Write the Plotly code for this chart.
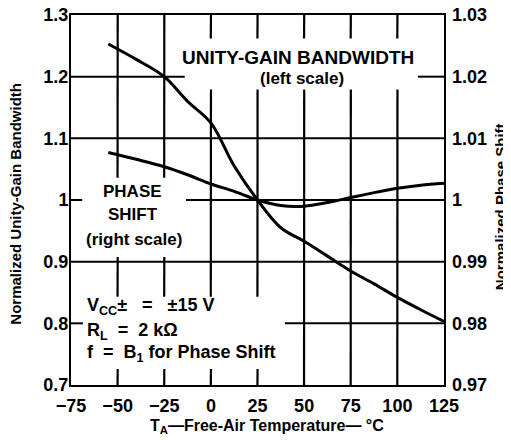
import plotly.graph_objects as go

# ---- data ----
temp = [-55, -40, -25, -12.5, 0, 12.5, 25, 37.5, 50, 62.5, 75, 87.5, 100, 112.5, 125]
unity_gain_bw = [1.253, 1.228, 1.200, 1.160, 1.125, 1.055, 1.000, 0.955, 0.933, 0.909,
                 0.885, 0.864, 0.842, 0.822, 0.803]
phase_shift = [1.0077, 1.0066, 1.0054, 1.0041, 1.0026, 1.0014, 1.0000, 0.9991, 0.9990,
               0.99958, 1.0004, 1.0012, 1.0019, 1.0024, 1.0027]

x_ticks = [-75, -50, -25, 0, 25, 50, 75, 100, 125]
x_ticktext = ["\u221275", "\u221250", "\u221225", "0", "25", "50", "75", "100", "125"]
y_left_ticks = [0.7, 0.8, 0.9, 1.0, 1.1, 1.2, 1.3]
y_left_text = ["0.7", "0.8", "0.9", "1", "1.1", "1.2", "1.3"]
y_right_ticks = [0.97, 0.98, 0.99, 1.0, 1.01, 1.02, 1.03]
y_right_text = ["0.97", "0.98", "0.99", "1", "1.01", "1.02", "1.03"]

FONT = "Liberation Sans, Arial, sans-serif"
X_RANGE = [-75, 125]
Y_RANGE = [0.7, 1.3]
NB = "\u00a0"

# areas (x0, x1, y0, y1 in left-axis units) where the grid is interrupted by text
text_gaps = [(-14, 111, 1.179, 1.262), (-69, -13.3, 0.9075, 1.036), (-68.6, 39.7, 0.726, 0.843)]


def cut(lo, hi, holes):
    """split interval [lo, hi] by removing the given (a, b) holes"""
    pieces = [(lo, hi)]
    for a, b in holes:
        nxt = []
        for p, q in pieces:
            if b <= p or a >= q:
                nxt.append((p, q))
                continue
            if a > p:
                nxt.append((p, a))
            if b < q:
                nxt.append((b, q))
        pieces = nxt
    return pieces


# vertical grid: one trace per x tick (pieces separated by a pen-up None)
fig = go.Figure()
for xv in x_ticks[1:-1]:
    holes = [(g[2], g[3]) for g in text_gaps if g[0] < xv < g[1]]
    gx, gy = [], []
    for a, b in cut(Y_RANGE[0], Y_RANGE[1], holes):
        gx += [xv - 0.04, xv + 0.04, None]
        gy += [a, b, None]
    fig.add_trace(go.Scatter(x=gx, y=gy, mode="lines", yaxis="y",
                             line=dict(color="black", width=2.2),
                             showlegend=False, hoverinfo="skip"))

# horizontal grid
hx, hy = [], []
for yv in y_left_ticks[1:-1]:
    holes = [(g[0], g[1]) for g in text_gaps if g[2] < yv < g[3]]
    for a, b in cut(X_RANGE[0], X_RANGE[1], holes):
        hx += [a, b, None]
        hy += [yv, yv, None]
fig.add_trace(go.Scatter(x=hx, y=hy, mode="lines", yaxis="y",
                         line=dict(color="black", width=2),
                         showlegend=False, hoverinfo="skip"))

fig.add_trace(go.Scatter(x=temp, y=unity_gain_bw, mode="lines", yaxis="y",
                         line=dict(color="black", width=3, shape="spline"),
                         showlegend=False, hoverinfo="skip"))
fig.add_trace(go.Scatter(x=temp, y=phase_shift, mode="lines", yaxis="y2",
                         line=dict(color="black", width=3, shape="spline"),
                         showlegend=False, hoverinfo="skip"))

tickfont = dict(family=FONT, size=18, color="black", weight="bold")

# the page body adds an 8px offset, so the figure is 8px smaller than the window
fig.update_layout(
    width=503, height=432,
    margin=dict(l=63, r=67, t=7, b=55, autoexpand=False),
    paper_bgcolor="white", plot_bgcolor="white",
    showlegend=False,
    xaxis=dict(range=X_RANGE, tickvals=x_ticks, ticktext=x_ticktext, automargin=False,
               showgrid=False, showline=True, linecolor="black", linewidth=2, mirror=True,
               zeroline=False, ticks="", ticklabelstandoff=3, tickfont=tickfont,
               ticklabeloverflow="allow"),
    yaxis=dict(range=Y_RANGE, tickvals=y_left_ticks, ticktext=y_left_text, automargin=False,
               showgrid=False, showline=True, linecolor="black", linewidth=2, mirror=True,
               zeroline=False, ticks="", ticklabelstandoff=-3, tickfont=tickfont,
               ticklabeloverflow="allow"),
    yaxis2=dict(range=[0.97, 1.03], tickvals=y_right_ticks, ticktext=y_right_text,
                overlaying="y", side="right", showgrid=False, zeroline=False, automargin=False,
                showline=False, ticks="", ticklabelstandoff=7, tickfont=tickfont,
                ticklabeloverflow="allow"),
)

afont = dict(family=FONT, size=17, color="black", weight="bold")

def note(text, x, y, xanchor="center", size=17):
    f = dict(afont)
    f["size"] = size
    fig.add_annotation(text=text, x=x, y=y, xref="x", yref="y", showarrow=False,
                       xanchor=xanchor, yanchor="middle", font=f, align="left")

note("UNITY-GAIN BANDWIDTH", 46.7, 1.231, size=19)
note("(left scale)", 48.9, 1.197)
note("PHASE", -41.8, 1.0137)
note("SHIFT", -41.5, 0.977)
note("(right scale)", -41.2, 0.9365)
note("V<sub>CC</sub>\u00b1" + NB * 3 + "=" + NB * 3 + "\u00b115 V", -67.5, 0.827,
     xanchor="left", size=18)
note("R<sub>L</sub>" + NB * 2 + "=" + NB * 2 + "2 k\u03a9", -67.5, 0.787, xanchor="left", size=18)
note("f" + NB * 2 + "=" + NB * 2 + "B<sub>1</sub> for Phase Shift", -67.5, 0.7515,
     xanchor="left", size=18)

tfont = dict(family=FONT, size=15, color="black", weight="bold")
fig.add_annotation(text="Normalized Unity-Gain Bandwidth", xref="paper", yref="paper",
                   x=-0.1475, y=0.49, textangle=-90, showarrow=False, font=tfont,
                   xanchor="center", yanchor="middle")
fig.add_annotation(text="Normalized Phase Shift", xref="paper", yref="paper",
                   x=1.152, y=0.4826, textangle=-90, showarrow=False, font=tfont,
                   xanchor="center", yanchor="middle")
fig.add_annotation(text="T<sub>A</sub>\u2014Free-Air Temperature\u2014 \u00b0C",
                   xref="paper", yref="paper", x=0.5255, y=-0.1126, showarrow=False,
                   font=dict(family=FONT, size=16, color="black", weight="bold"),
                   xanchor="center", yanchor="middle")

fig.write_html("out.html")
